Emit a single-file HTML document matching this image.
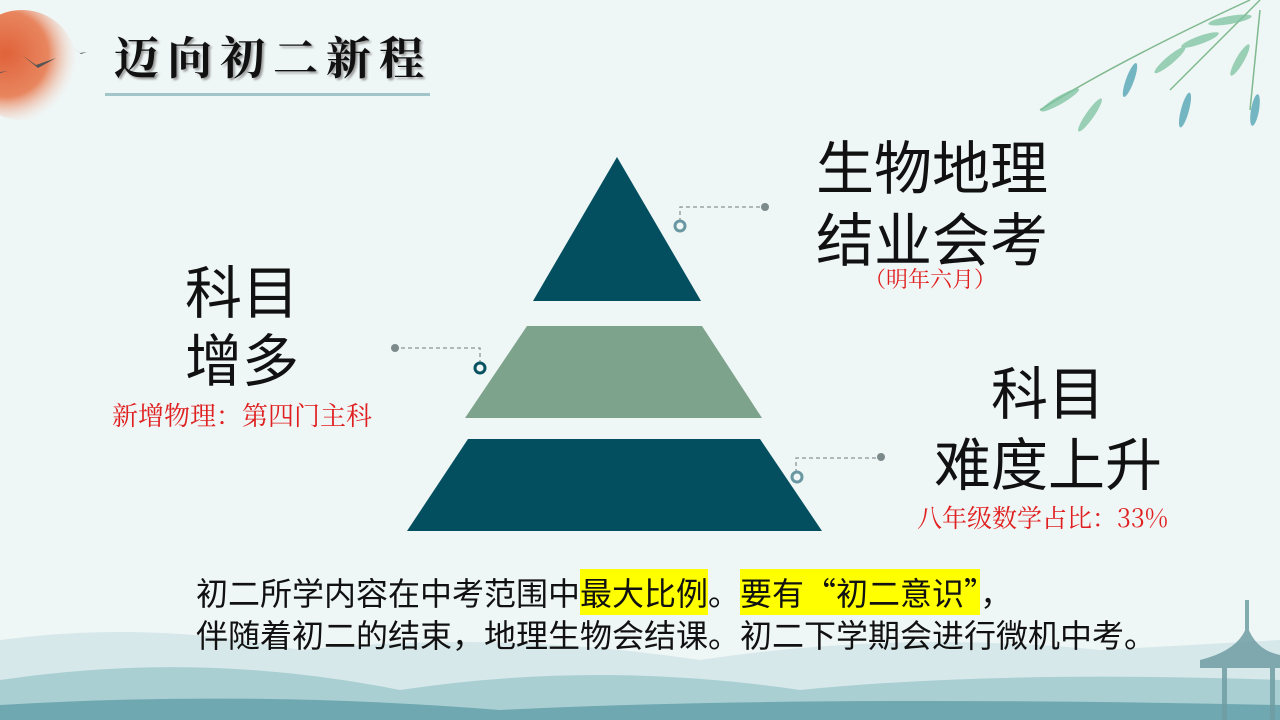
<!DOCTYPE html>
<html><head><meta charset="utf-8"><style>
html,body{margin:0;padding:0}
body{width:1280px;height:720px;position:relative;overflow:hidden;background:#eff6f6;font-family:"Noto Sans CJK SC",sans-serif}
.t{position:absolute;white-space:nowrap;line-height:1}
svg{position:absolute;left:0;top:0}
.hl{background:#ffff00}
</style></head><body>
<svg width="1280" height="720">
<defs>
<radialGradient id="sun" cx="0.35" cy="0.4" r="0.65">
<stop offset="0" stop-color="#e0623a"/><stop offset="0.6" stop-color="#e8865f"/><stop offset="1" stop-color="#f3dcd0" stop-opacity="0"/></radialGradient>
</defs>
<circle cx="22" cy="65" r="55" fill="url(#sun)"/>
<path d="M22 55 l14 10 l20 -7 l-18 10 z" fill="#555"/>
<path d="M74 48 l6 5 l7 -1 l-6 2z" fill="#555"/>
<path d="M0 72 l8 -1 l-8 2z" fill="#555"/>
<rect x="105" y="93" width="325" height="3" fill="#8fb9bf" opacity="0.8"/>
<g stroke="#6a7" stroke-width="1.5" fill="none" opacity="0.8">
<path d="M1040 110 Q1120 60 1250 0"/><path d="M1170 90 Q1220 40 1260 0"/><path d="M1250 110 L1260 10"/>
</g>
<g fill="#7cc3a0" opacity="0.75">
<ellipse cx="1060" cy="100" rx="22" ry="4" transform="rotate(-30 1060 100)"/>
<ellipse cx="1090" cy="115" rx="20" ry="4" transform="rotate(-55 1090 115)"/>
<ellipse cx="1130" cy="80" rx="18" ry="4" transform="rotate(-70 1130 80)" fill="#4aa0b0"/>
<ellipse cx="1170" cy="60" rx="20" ry="4" transform="rotate(-40 1170 60)"/>
<ellipse cx="1200" cy="40" rx="20" ry="4" transform="rotate(-20 1200 40)"/>
<ellipse cx="1185" cy="110" rx="18" ry="4" transform="rotate(-75 1185 110)" fill="#4aa0b0"/>
<ellipse cx="1230" cy="20" rx="22" ry="4" transform="rotate(-10 1230 20)"/>
<ellipse cx="1255" cy="110" rx="16" ry="4" transform="rotate(-80 1255 110)" fill="#4aa0b0"/>
<ellipse cx="1240" cy="60" rx="18" ry="4" transform="rotate(-60 1240 60)"/>
</g>
<path d="M0 640 Q150 620 300 650 Q500 630 700 660 Q900 630 1100 650 L1280 640 L1280 720 L0 720Z" fill="#d7e8ea"/>
<path d="M0 680 Q200 650 400 690 Q600 660 800 690 Q1000 670 1280 680 L1280 720 L0 720Z" fill="#a9cfd3"/>
<path d="M0 705 Q250 690 500 710 Q800 695 1280 705 L1280 720 L0 720Z" fill="#6fa8b0"/>
<g fill="#6f9ea4" opacity="0.85">
<rect x="1245" y="600" width="4" height="40"/>
<path d="M1200 660 Q1240 650 1247 625 Q1255 650 1280 655 L1280 668 L1200 668Z"/>
<rect x="1222" y="668" width="5" height="52"/><rect x="1270" y="668" width="5" height="52"/>
</g>
<polygon points="617,157 701,301 533,301" fill="#044f5f"/>
<polygon points="527,326 702,326 762,418 465,418" fill="#7ea38c"/>
<polygon points="468,439 760,439 822,531 407,531" fill="#044f5f"/>
<g stroke="#8a9496" stroke-width="1.3" stroke-dasharray="4 3" fill="none">
<path d="M680 222 V207 H765"/><path d="M480 364 V348 H395"/><path d="M796 473 V458 H881"/>
</g>
<g fill="#7c8a8c"><circle cx="765" cy="207" r="4"/><circle cx="395" cy="348" r="4"/><circle cx="881" cy="457" r="4"/></g>
<circle cx="680" cy="226" r="5" fill="none" stroke="#6a98a2" stroke-width="3"/>
<circle cx="480" cy="368" r="5" fill="none" stroke="#0a5363" stroke-width="3"/>
<circle cx="797" cy="477" r="5" fill="none" stroke="#6a98a2" stroke-width="3"/>
</svg>
<div class="t" style="left:114px;top:32px;font-size:45px;font-family:'Noto Serif CJK SC',serif;font-weight:bold;color:#111;text-shadow:2px 2px 2px #999;letter-spacing:8px">迈向初二新程</div>
<div class="t" style="left:816px;top:128px;font-size:58px;line-height:72px;color:#111">生物地理<br>结业会考</div>
<div class="t" style="left:864px;top:268px;font-size:22px;font-family:'Noto Serif CJK SC',serif;color:#e02020">（明年六月）</div>
<div class="t" style="left:185px;top:255px;font-size:57px;line-height:68px;color:#111">科目<br>增多</div>
<div class="t" style="left:112px;top:402px;font-size:26px;font-family:'Noto Serif CJK SC',serif;color:#e02020">新增物理：第四门主科</div>
<div class="t" style="left:991px;top:362px;font-size:57px;color:#111">科目</div>
<div class="t" style="left:934px;top:433px;font-size:57px;color:#111">难度上升</div>
<div class="t" style="left:917px;top:505px;font-size:25px;font-family:'Noto Serif CJK SC',serif;color:#e02020">八年级数学占比：33%</div>
<div class="t" style="left:196px;top:571px;font-size:32px;line-height:42px;color:#111">初二所学内容在中考范围中<span class="hl">最大比例</span>。<span class="hl">要有“初二意识”</span>，<br>伴随着初二的结束，地理生物会结课。初二下学期会进行微机中考。</div>
</body></html>
